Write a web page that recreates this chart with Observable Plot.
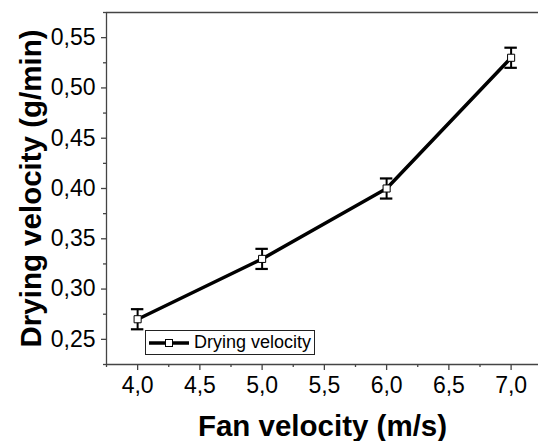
<!DOCTYPE html>
<html>
<head>
<meta charset="utf-8">
<script src="https://cdn.jsdelivr.net/npm/d3@7"></script>
<script src="https://cdn.jsdelivr.net/npm/@observablehq/plot@0.6"></script>
<style>
  html, body { margin: 0; padding: 0; background: #fff; }
  #wrap { position: relative; width: 538px; height: 441px; overflow: hidden; font-family: "Liberation Sans", Arial, sans-serif; }
  #legend { position: absolute; left: 145px; top: 330px; width: 168px; height: 23px; border: 1px solid #222; background: #fff;
    display: flex; align-items: center; font-size: 18px; color: #000; box-sizing: content-box; white-space: nowrap; overflow: visible; }
  #legend svg { margin-left: 3px; margin-right: 5px; flex: none; }
</style>
</head>
<body>
<div id="wrap"></div>
<script>
const fanVelocity = [4.0, 5.0, 6.0, 7.0];
const dryingVelocity = [0.27, 0.33, 0.40, 0.53];
const errorValue = [0.01, 0.01, 0.01, 0.01];
const xMajorTicks = [4.0, 4.5, 5.0, 5.5, 6.0, 6.5, 7.0];
const xMinorTicks = [3.75, 4.25, 4.75, 5.25, 5.75, 6.25, 6.75, 7.25];
const yMajorTicks = [0.25, 0.30, 0.35, 0.40, 0.45, 0.50, 0.55];
const yMinorTicks = [0.225, 0.275, 0.325, 0.375, 0.425, 0.475, 0.525, 0.575];
const xDomain = [3.75, 7.22];
const yDomain = [0.225, 0.575];
const seriesName = "Drying velocity";
const xLabel = "Fan velocity (m/s)";
const yLabel = "Drying velocity (g/min)";

const data = fanVelocity.map((x, i) => ({x, y: dryingVelocity[i], e: errorValue[i]}));
const capHalf = 0.05;
const comma = d => d3.format(d < 1 ? ".2f" : ".1f")(d).replace(".", ",");
const axisColor = "#444";

const chart = Plot.plot({
  width: 538,
  height: 441,
  marginTop: 12,
  marginBottom: 77,
  marginLeft: 106,
  marginRight: 0,
  style: {fontFamily: '"Liberation Sans", Arial, sans-serif', background: "#fff", color: "#000"},
  x: {domain: xDomain, axis: null},
  y: {domain: yDomain, axis: null},
  marks: [
    Plot.ruleX([xDomain[0]], {stroke: axisColor, strokeWidth: 1.3}),
    Plot.ruleY([yDomain[0]], {stroke: axisColor, strokeWidth: 1.3}),
    Plot.ruleY([yDomain[1]], {stroke: axisColor, strokeWidth: 1.3}),
    Plot.axisX(xMajorTicks, {tickSize: 6, tickPadding: 6, tickFormat: comma, fontSize: 23, stroke: axisColor, strokeWidth: 1.3, label: null}),
    Plot.axisX(xMinorTicks, {tickSize: 3, text: null, stroke: axisColor, strokeWidth: 1.3, label: null}),
    Plot.axisY(yMajorTicks, {tickSize: 5, tickPadding: 6, tickFormat: comma, fontSize: 23, stroke: axisColor, strokeWidth: 1.3, label: null}),
    Plot.axisY(yMinorTicks, {tickSize: 3, text: null, stroke: axisColor, strokeWidth: 1.3, label: null}),
    Plot.ruleX(data, {x: "x", y1: d => d.y - d.e, y2: d => d.y + d.e, stroke: "#000", strokeWidth: 2}),
    Plot.ruleY(data, {y: d => d.y + d.e, x1: d => d.x - capHalf, x2: d => d.x + capHalf, stroke: "#000", strokeWidth: 2.2}),
    Plot.ruleY(data, {y: d => d.y - d.e, x1: d => d.x - capHalf, x2: d => d.x + capHalf, stroke: "#000", strokeWidth: 2.2}),
    Plot.line(data, {x: "x", y: "y", stroke: "#000", strokeWidth: 3.5}),
    Plot.dot(data, {x: "x", y: "y", symbol: "square", r: 4, fill: "#fff", stroke: "#000", strokeWidth: 1}),
    Plot.text([xLabel], {frameAnchor: "bottom", textAnchor: "middle", lineAnchor: "middle", dy: 62, text: d => d, fontSize: 29.5, fontWeight: "bold", fill: "#000"}),
    Plot.text([yLabel], {frameAnchor: "left", textAnchor: "middle", lineAnchor: "middle", dx: -75, rotate: -90, text: d => d, fontSize: 29.5, fontWeight: "bold", fill: "#000"})
  ]
});

const wrap = document.getElementById("wrap");
wrap.appendChild(chart);

const legend = document.createElement("div");
legend.id = "legend";
legend.innerHTML = `<svg width="40" height="12"><line x1="0" y1="6" x2="40" y2="6" stroke="#000" stroke-width="3.5"/><rect x="16.5" y="2.5" width="7" height="7" fill="#fff" stroke="#000" stroke-width="1"/></svg><span>${seriesName}</span>`;
wrap.appendChild(legend);
</script>
</body>
</html>
